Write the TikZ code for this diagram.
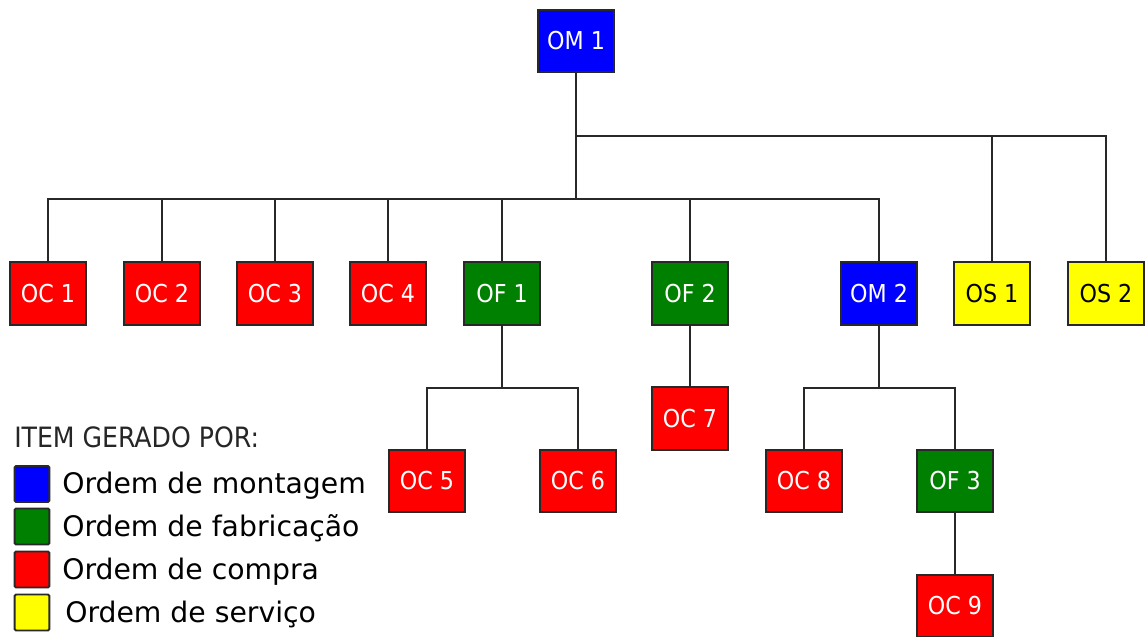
\documentclass[tikz,border=0pt]{standalone}
\usepackage{fontspec}
\setmainfont{DejaVu Sans}
\newfontfamily\cond{DejaVu Sans Condensed}
\definecolor{cblue}{RGB}{0,0,255}
\definecolor{cgreen}{RGB}{0,128,0}
\definecolor{cred}{RGB}{255,0,0}
\definecolor{cyellow}{RGB}{255,255,0}
\definecolor{lin}{RGB}{40,40,40}
\tikzset{
  box/.style={draw=lin, line width=1.4pt, minimum width=57pt, minimum height=47pt, inner sep=0pt,
    font=\cond\fontsize{18.5}{21}\selectfont, text=white},
  ybox/.style={box, fill=cyellow, text=black},
  bbox/.style={box, fill=cblue},
  gbox/.style={box, fill=cgreen},
  rbox/.style={box, fill=cred},
  con/.style={draw=lin, line width=1.4pt},
  sq/.style={draw=lin, line width=1.4pt, minimum width=26pt, minimum height=27pt, inner sep=0pt, rounded corners=1pt},
  leg/.style={anchor=base west, inner sep=0pt, font=\fontsize{21.2}{24}\selectfont}
}
\begin{document}
\begin{tikzpicture}[x=0.75pt, y=-0.75pt]
\useasboundingbox (0,0) rectangle (1145,636);
% nodes
\node[bbox] (om1) at (576,41) {OM 1};
\node[rbox] (oc1) at (48,293.5) {OC 1};
\node[rbox] (oc2) at (162,293.5) {OC 2};
\node[rbox] (oc3) at (275,293.5) {OC 3};
\node[rbox] (oc4) at (388,293.5) {OC 4};
\node[gbox] (of1) at (502,293.5) {OF 1};
\node[gbox] (of2) at (690,293.5) {OF 2};
\node[bbox] (om2) at (879,293.5) {OM 2};
\node[ybox] (os1) at (992,293.5) {OS 1};
\node[ybox] (os2) at (1106,293.5) {OS 2};
\node[rbox] (oc7) at (690,418.5) {OC 7};
\node[rbox] (oc5) at (427,481) {OC 5};
\node[rbox] (oc6) at (578,481) {OC 6};
\node[rbox] (oc8) at (804,481) {OC 8};
\node[gbox] (of3) at (955,481) {OF 3};
\node[rbox] (oc9) at (955,606) {OC 9};
% connectors
\foreach \c in {oc1,oc2,oc3,oc4,of1,of2,om2}
  \draw[con] (om1.south) -- ++(0,126) -| (\c.north);
\foreach \c in {os1,os2}
  \draw[con] (om1.south) -- ++(0,63) -| (\c.north);
\foreach \c in {oc5,oc6}
  \draw[con] (of1.south) -- ++(0,62) -| (\c.north);
\foreach \c in {oc8,of3}
  \draw[con] (om2.south) -- ++(0,62) -| (\c.north);
\draw[con] (of2.south) -- (oc7.north);
\draw[con] (of3.south) -- (oc9.north);
% legend
\node[anchor=base west, inner sep=0pt, font=\cond\fontsize{21}{24}\selectfont, text=black!85] (title) at (14,447) {ITEM GERADO POR:};
\node[sq, fill=cblue] (s1) at (32,484) {};
\node[sq, fill=cgreen] (s2) at (32,526.5) {};
\node[sq, fill=cred] (s3) at (32,569.5) {};
\node[sq, fill=cyellow] (s4) at (32,612.5) {};
\node[leg] (l1) at (62,493) {Ordem de montagem};
\node[leg] (l2) at (62,536) {Ordem de fabricação};
\node[leg] (l3) at (62,579) {Ordem de compra};
\node[leg] (l4) at (65,622) {Ordem de serviço};
\end{tikzpicture}
\end{document}
